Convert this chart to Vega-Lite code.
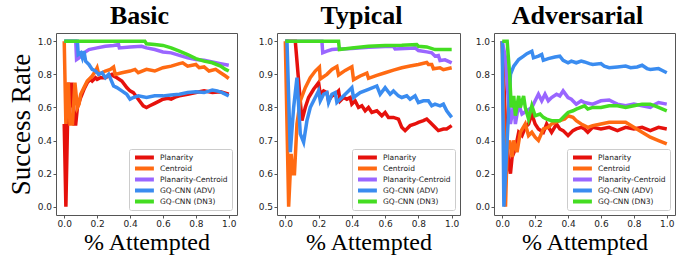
{
  "$schema": "https://vega.github.io/schema/vega-lite/v6.json",
  "padding": {"left": 6, "top": 2, "right": 0, "bottom": 0},
  "config": {
    "view": {"stroke": "#555", "strokeWidth": 1},
    "axis": {"labelFont": "DejaVu Sans", "labelFontSize": 9, "labelColor": "#222", "tickColor": "#555", "domain": false, "grid": false, "tickSize": 3, "labelPadding": 1.5, "titleFont": "Liberation Serif", "titleFontWeight": "normal", "titleColor": "black"},
    "title": {"font": "Liberation Serif", "fontSize": 26, "fontWeight": "bold", "offset": 4, "color": "black", "frame": "group", "dx": -7},
    "legend": {"orient": "bottom-right", "title": null, "symbolType": "M-1,0H5.3", "symbolStrokeWidth": 4, "symbolSize": 36, "symbolFillColor": "transparent", "labelOffset": 17, "labelFont": "DejaVu Sans", "labelFontSize": 7.5, "labelColor": "#222", "strokeColor": "#ccc", "fillColor": "white", "padding": 4, "rowPadding": 2, "clipHeight": 9, "offset": 5, "cornerRadius": 2}
  },
  "spacing": 40,
  "bounds": "flush",
  "resolve": {"legend": {"color": "independent"}},
  "data": {"values": [
    {"panel":"Basic","method":"Planarity","x":0,"y":0.5},{"panel":"Basic","method":"Planarity","x":0.01,"y":0.0},{"panel":"Basic","method":"Planarity","x":0.025,"y":0.75},{"panel":"Basic","method":"Planarity","x":0.035,"y":0.6},{"panel":"Basic","method":"Planarity","x":0.045,"y":0.75},{"panel":"Basic","method":"Planarity","x":0.06,"y":0.5},{"panel":"Basic","method":"Planarity","x":0.07,"y":0.5},{"panel":"Basic","method":"Planarity","x":0.08,"y":0.6},{"panel":"Basic","method":"Planarity","x":0.1,"y":0.66},{"panel":"Basic","method":"Planarity","x":0.12,"y":0.71},{"panel":"Basic","method":"Planarity","x":0.14,"y":0.75},{"panel":"Basic","method":"Planarity","x":0.16,"y":0.77},{"panel":"Basic","method":"Planarity","x":0.17,"y":0.76},{"panel":"Basic","method":"Planarity","x":0.19,"y":0.78},{"panel":"Basic","method":"Planarity","x":0.2,"y":0.77},{"panel":"Basic","method":"Planarity","x":0.22,"y":0.78},{"panel":"Basic","method":"Planarity","x":0.25,"y":0.78},{"panel":"Basic","method":"Planarity","x":0.27,"y":0.79},{"panel":"Basic","method":"Planarity","x":0.29,"y":0.8},{"panel":"Basic","method":"Planarity","x":0.3,"y":0.79},{"panel":"Basic","method":"Planarity","x":0.32,"y":0.78},{"panel":"Basic","method":"Planarity","x":0.35,"y":0.76},{"panel":"Basic","method":"Planarity","x":0.38,"y":0.72},{"panel":"Basic","method":"Planarity","x":0.4,"y":0.7},{"panel":"Basic","method":"Planarity","x":0.42,"y":0.69},{"panel":"Basic","method":"Planarity","x":0.45,"y":0.65},{"panel":"Basic","method":"Planarity","x":0.48,"y":0.61},{"panel":"Basic","method":"Planarity","x":0.5,"y":0.6},{"panel":"Basic","method":"Planarity","x":0.52,"y":0.61},{"panel":"Basic","method":"Planarity","x":0.55,"y":0.625},{"panel":"Basic","method":"Planarity","x":0.58,"y":0.64},{"panel":"Basic","method":"Planarity","x":0.6,"y":0.65},{"panel":"Basic","method":"Planarity","x":0.63,"y":0.655},{"panel":"Basic","method":"Planarity","x":0.65,"y":0.65},{"panel":"Basic","method":"Planarity","x":0.68,"y":0.665},{"panel":"Basic","method":"Planarity","x":0.7,"y":0.67},{"panel":"Basic","method":"Planarity","x":0.75,"y":0.68},{"panel":"Basic","method":"Planarity","x":0.8,"y":0.69},{"panel":"Basic","method":"Planarity","x":0.85,"y":0.7},{"panel":"Basic","method":"Planarity","x":0.9,"y":0.69},{"panel":"Basic","method":"Planarity","x":0.95,"y":0.695},{"panel":"Basic","method":"Planarity","x":1.0,"y":0.68},
    {"panel":"Basic","method":"Centroid","x":0,"y":1},{"panel":"Basic","method":"Centroid","x":0.01,"y":0.5},{"panel":"Basic","method":"Centroid","x":0.025,"y":0.75},{"panel":"Basic","method":"Centroid","x":0.035,"y":0.5},{"panel":"Basic","method":"Centroid","x":0.05,"y":0.5},{"panel":"Basic","method":"Centroid","x":0.065,"y":0.75},{"panel":"Basic","method":"Centroid","x":0.08,"y":0.6},{"panel":"Basic","method":"Centroid","x":0.09,"y":0.62},{"panel":"Basic","method":"Centroid","x":0.1,"y":0.68},{"panel":"Basic","method":"Centroid","x":0.12,"y":0.72},{"panel":"Basic","method":"Centroid","x":0.14,"y":0.76},{"panel":"Basic","method":"Centroid","x":0.17,"y":0.79},{"panel":"Basic","method":"Centroid","x":0.19,"y":0.82},{"panel":"Basic","method":"Centroid","x":0.2,"y":0.84},{"panel":"Basic","method":"Centroid","x":0.21,"y":0.8},{"panel":"Basic","method":"Centroid","x":0.25,"y":0.82},{"panel":"Basic","method":"Centroid","x":0.28,"y":0.83},{"panel":"Basic","method":"Centroid","x":0.3,"y":0.845},{"panel":"Basic","method":"Centroid","x":0.31,"y":0.8},{"panel":"Basic","method":"Centroid","x":0.35,"y":0.81},{"panel":"Basic","method":"Centroid","x":0.4,"y":0.82},{"panel":"Basic","method":"Centroid","x":0.43,"y":0.83},{"panel":"Basic","method":"Centroid","x":0.45,"y":0.81},{"panel":"Basic","method":"Centroid","x":0.5,"y":0.83},{"panel":"Basic","method":"Centroid","x":0.55,"y":0.82},{"panel":"Basic","method":"Centroid","x":0.6,"y":0.84},{"panel":"Basic","method":"Centroid","x":0.65,"y":0.85},{"panel":"Basic","method":"Centroid","x":0.7,"y":0.865},{"panel":"Basic","method":"Centroid","x":0.72,"y":0.87},{"panel":"Basic","method":"Centroid","x":0.75,"y":0.85},{"panel":"Basic","method":"Centroid","x":0.8,"y":0.86},{"panel":"Basic","method":"Centroid","x":0.82,"y":0.84},{"panel":"Basic","method":"Centroid","x":0.85,"y":0.845},{"panel":"Basic","method":"Centroid","x":0.88,"y":0.82},{"panel":"Basic","method":"Centroid","x":0.92,"y":0.83},{"panel":"Basic","method":"Centroid","x":0.95,"y":0.81},{"panel":"Basic","method":"Centroid","x":0.98,"y":0.79},{"panel":"Basic","method":"Centroid","x":1.0,"y":0.775},
    {"panel":"Basic","method":"Planarity-Centroid","x":0,"y":1},{"panel":"Basic","method":"Planarity-Centroid","x":0.07,"y":1},{"panel":"Basic","method":"Planarity-Centroid","x":0.075,"y":0.89},{"panel":"Basic","method":"Planarity-Centroid","x":0.09,"y":0.9},{"panel":"Basic","method":"Planarity-Centroid","x":0.12,"y":0.93},{"panel":"Basic","method":"Planarity-Centroid","x":0.15,"y":0.95},{"panel":"Basic","method":"Planarity-Centroid","x":0.2,"y":0.96},{"panel":"Basic","method":"Planarity-Centroid","x":0.25,"y":0.97},{"panel":"Basic","method":"Planarity-Centroid","x":0.3,"y":0.975},{"panel":"Basic","method":"Planarity-Centroid","x":0.33,"y":0.98},{"panel":"Basic","method":"Planarity-Centroid","x":0.335,"y":0.96},{"panel":"Basic","method":"Planarity-Centroid","x":0.4,"y":0.965},{"panel":"Basic","method":"Planarity-Centroid","x":0.47,"y":0.97},{"panel":"Basic","method":"Planarity-Centroid","x":0.5,"y":0.96},{"panel":"Basic","method":"Planarity-Centroid","x":0.55,"y":0.95},{"panel":"Basic","method":"Planarity-Centroid","x":0.6,"y":0.935},{"panel":"Basic","method":"Planarity-Centroid","x":0.65,"y":0.93},{"panel":"Basic","method":"Planarity-Centroid","x":0.7,"y":0.915},{"panel":"Basic","method":"Planarity-Centroid","x":0.75,"y":0.9},{"panel":"Basic","method":"Planarity-Centroid","x":0.8,"y":0.89},{"panel":"Basic","method":"Planarity-Centroid","x":0.85,"y":0.885},{"panel":"Basic","method":"Planarity-Centroid","x":0.9,"y":0.875},{"panel":"Basic","method":"Planarity-Centroid","x":0.95,"y":0.865},{"panel":"Basic","method":"Planarity-Centroid","x":1.0,"y":0.855},
    {"panel":"Basic","method":"GQ-CNN (ADV)","x":0,"y":1},{"panel":"Basic","method":"GQ-CNN (ADV)","x":0.08,"y":1},{"panel":"Basic","method":"GQ-CNN (ADV)","x":0.085,"y":0.92},{"panel":"Basic","method":"GQ-CNN (ADV)","x":0.1,"y":0.93},{"panel":"Basic","method":"GQ-CNN (ADV)","x":0.11,"y":0.9},{"panel":"Basic","method":"GQ-CNN (ADV)","x":0.12,"y":0.94},{"panel":"Basic","method":"GQ-CNN (ADV)","x":0.13,"y":0.88},{"panel":"Basic","method":"GQ-CNN (ADV)","x":0.15,"y":0.86},{"panel":"Basic","method":"GQ-CNN (ADV)","x":0.17,"y":0.83},{"panel":"Basic","method":"GQ-CNN (ADV)","x":0.19,"y":0.82},{"panel":"Basic","method":"GQ-CNN (ADV)","x":0.21,"y":0.8},{"panel":"Basic","method":"GQ-CNN (ADV)","x":0.23,"y":0.81},{"panel":"Basic","method":"GQ-CNN (ADV)","x":0.25,"y":0.78},{"panel":"Basic","method":"GQ-CNN (ADV)","x":0.27,"y":0.8},{"panel":"Basic","method":"GQ-CNN (ADV)","x":0.3,"y":0.73},{"panel":"Basic","method":"GQ-CNN (ADV)","x":0.32,"y":0.72},{"panel":"Basic","method":"GQ-CNN (ADV)","x":0.35,"y":0.7},{"panel":"Basic","method":"GQ-CNN (ADV)","x":0.38,"y":0.68},{"panel":"Basic","method":"GQ-CNN (ADV)","x":0.4,"y":0.65},{"panel":"Basic","method":"GQ-CNN (ADV)","x":0.42,"y":0.66},{"panel":"Basic","method":"GQ-CNN (ADV)","x":0.45,"y":0.67},{"panel":"Basic","method":"GQ-CNN (ADV)","x":0.5,"y":0.66},{"panel":"Basic","method":"GQ-CNN (ADV)","x":0.55,"y":0.67},{"panel":"Basic","method":"GQ-CNN (ADV)","x":0.6,"y":0.67},{"panel":"Basic","method":"GQ-CNN (ADV)","x":0.65,"y":0.675},{"panel":"Basic","method":"GQ-CNN (ADV)","x":0.7,"y":0.68},{"panel":"Basic","method":"GQ-CNN (ADV)","x":0.75,"y":0.69},{"panel":"Basic","method":"GQ-CNN (ADV)","x":0.8,"y":0.695},{"panel":"Basic","method":"GQ-CNN (ADV)","x":0.85,"y":0.69},{"panel":"Basic","method":"GQ-CNN (ADV)","x":0.9,"y":0.705},{"panel":"Basic","method":"GQ-CNN (ADV)","x":0.93,"y":0.7},{"panel":"Basic","method":"GQ-CNN (ADV)","x":0.96,"y":0.69},{"panel":"Basic","method":"GQ-CNN (ADV)","x":1.0,"y":0.67},
    {"panel":"Basic","method":"GQ-CNN (DN3)","x":0,"y":1},{"panel":"Basic","method":"GQ-CNN (DN3)","x":0.49,"y":1},{"panel":"Basic","method":"GQ-CNN (DN3)","x":0.5,"y":0.985},{"panel":"Basic","method":"GQ-CNN (DN3)","x":0.55,"y":0.98},{"panel":"Basic","method":"GQ-CNN (DN3)","x":0.6,"y":0.975},{"panel":"Basic","method":"GQ-CNN (DN3)","x":0.65,"y":0.96},{"panel":"Basic","method":"GQ-CNN (DN3)","x":0.7,"y":0.94},{"panel":"Basic","method":"GQ-CNN (DN3)","x":0.75,"y":0.92},{"panel":"Basic","method":"GQ-CNN (DN3)","x":0.8,"y":0.895},{"panel":"Basic","method":"GQ-CNN (DN3)","x":0.85,"y":0.88},{"panel":"Basic","method":"GQ-CNN (DN3)","x":0.9,"y":0.87},{"panel":"Basic","method":"GQ-CNN (DN3)","x":0.95,"y":0.85},{"panel":"Basic","method":"GQ-CNN (DN3)","x":0.98,"y":0.83},{"panel":"Basic","method":"GQ-CNN (DN3)","x":1.0,"y":0.82},

    {"panel":"Typical","method":"Planarity","x":0,"y":1},{"panel":"Typical","method":"Planarity","x":0.06,"y":1},{"panel":"Typical","method":"Planarity","x":0.1,"y":0.76},{"panel":"Typical","method":"Planarity","x":0.12,"y":0.8},{"panel":"Typical","method":"Planarity","x":0.14,"y":0.83},{"panel":"Typical","method":"Planarity","x":0.17,"y":0.855},{"panel":"Typical","method":"Planarity","x":0.2,"y":0.875},{"panel":"Typical","method":"Planarity","x":0.21,"y":0.84},{"panel":"Typical","method":"Planarity","x":0.23,"y":0.85},{"panel":"Typical","method":"Planarity","x":0.25,"y":0.845},{"panel":"Typical","method":"Planarity","x":0.26,"y":0.82},{"panel":"Typical","method":"Planarity","x":0.28,"y":0.835},{"panel":"Typical","method":"Planarity","x":0.3,"y":0.84},{"panel":"Typical","method":"Planarity","x":0.32,"y":0.85},{"panel":"Typical","method":"Planarity","x":0.33,"y":0.82},{"panel":"Typical","method":"Planarity","x":0.35,"y":0.83},{"panel":"Typical","method":"Planarity","x":0.37,"y":0.825},{"panel":"Typical","method":"Planarity","x":0.39,"y":0.83},{"panel":"Typical","method":"Planarity","x":0.4,"y":0.81},{"panel":"Typical","method":"Planarity","x":0.42,"y":0.82},{"panel":"Typical","method":"Planarity","x":0.44,"y":0.8},{"panel":"Typical","method":"Planarity","x":0.46,"y":0.805},{"panel":"Typical","method":"Planarity","x":0.48,"y":0.79},{"panel":"Typical","method":"Planarity","x":0.5,"y":0.8},{"panel":"Typical","method":"Planarity","x":0.52,"y":0.785},{"panel":"Typical","method":"Planarity","x":0.55,"y":0.79},{"panel":"Typical","method":"Planarity","x":0.58,"y":0.775},{"panel":"Typical","method":"Planarity","x":0.6,"y":0.785},{"panel":"Typical","method":"Planarity","x":0.62,"y":0.77},{"panel":"Typical","method":"Planarity","x":0.65,"y":0.77},{"panel":"Typical","method":"Planarity","x":0.68,"y":0.765},{"panel":"Typical","method":"Planarity","x":0.7,"y":0.74},{"panel":"Typical","method":"Planarity","x":0.72,"y":0.73},{"panel":"Typical","method":"Planarity","x":0.75,"y":0.745},{"panel":"Typical","method":"Planarity","x":0.78,"y":0.75},{"panel":"Typical","method":"Planarity","x":0.8,"y":0.755},{"panel":"Typical","method":"Planarity","x":0.83,"y":0.76},{"panel":"Typical","method":"Planarity","x":0.85,"y":0.765},{"panel":"Typical","method":"Planarity","x":0.87,"y":0.755},{"panel":"Typical","method":"Planarity","x":0.9,"y":0.74},{"panel":"Typical","method":"Planarity","x":0.92,"y":0.73},{"panel":"Typical","method":"Planarity","x":0.95,"y":0.735},{"panel":"Typical","method":"Planarity","x":0.97,"y":0.735},{"panel":"Typical","method":"Planarity","x":1.0,"y":0.745},
    {"panel":"Typical","method":"Centroid","x":0,"y":1},{"panel":"Typical","method":"Centroid","x":0.02,"y":0.5},{"panel":"Typical","method":"Centroid","x":0.035,"y":0.66},{"panel":"Typical","method":"Centroid","x":0.045,"y":0.6},{"panel":"Typical","method":"Centroid","x":0.055,"y":0.6},{"panel":"Typical","method":"Centroid","x":0.07,"y":0.75},{"panel":"Typical","method":"Centroid","x":0.09,"y":0.82},{"panel":"Typical","method":"Centroid","x":0.12,"y":0.86},{"panel":"Typical","method":"Centroid","x":0.15,"y":0.89},{"panel":"Typical","method":"Centroid","x":0.18,"y":0.91},{"panel":"Typical","method":"Centroid","x":0.205,"y":0.922},{"panel":"Typical","method":"Centroid","x":0.21,"y":0.886},{"panel":"Typical","method":"Centroid","x":0.25,"y":0.9},{"panel":"Typical","method":"Centroid","x":0.28,"y":0.915},{"panel":"Typical","method":"Centroid","x":0.31,"y":0.924},{"panel":"Typical","method":"Centroid","x":0.32,"y":0.898},{"panel":"Typical","method":"Centroid","x":0.36,"y":0.912},{"panel":"Typical","method":"Centroid","x":0.4,"y":0.923},{"panel":"Typical","method":"Centroid","x":0.41,"y":0.884},{"panel":"Typical","method":"Centroid","x":0.45,"y":0.895},{"panel":"Typical","method":"Centroid","x":0.49,"y":0.904},{"panel":"Typical","method":"Centroid","x":0.5,"y":0.888},{"panel":"Typical","method":"Centroid","x":0.55,"y":0.897},{"panel":"Typical","method":"Centroid","x":0.6,"y":0.905},{"panel":"Typical","method":"Centroid","x":0.65,"y":0.913},{"panel":"Typical","method":"Centroid","x":0.7,"y":0.92},{"panel":"Typical","method":"Centroid","x":0.75,"y":0.925},{"panel":"Typical","method":"Centroid","x":0.8,"y":0.93},{"panel":"Typical","method":"Centroid","x":0.85,"y":0.936},{"panel":"Typical","method":"Centroid","x":0.86,"y":0.93},{"panel":"Typical","method":"Centroid","x":0.88,"y":0.93},{"panel":"Typical","method":"Centroid","x":0.89,"y":0.917},{"panel":"Typical","method":"Centroid","x":0.93,"y":0.92},{"panel":"Typical","method":"Centroid","x":0.95,"y":0.914},{"panel":"Typical","method":"Centroid","x":1.0,"y":0.92},
    {"panel":"Typical","method":"Planarity-Centroid","x":0,"y":1},{"panel":"Typical","method":"Planarity-Centroid","x":0.22,"y":1},{"panel":"Typical","method":"Planarity-Centroid","x":0.225,"y":0.965},{"panel":"Typical","method":"Planarity-Centroid","x":0.25,"y":0.97},{"panel":"Typical","method":"Planarity-Centroid","x":0.28,"y":0.975},{"panel":"Typical","method":"Planarity-Centroid","x":0.3,"y":0.976},{"panel":"Typical","method":"Planarity-Centroid","x":0.4,"y":0.978},{"panel":"Typical","method":"Planarity-Centroid","x":0.5,"y":0.982},{"panel":"Typical","method":"Planarity-Centroid","x":0.6,"y":0.984},{"panel":"Typical","method":"Planarity-Centroid","x":0.65,"y":0.985},{"panel":"Typical","method":"Planarity-Centroid","x":0.66,"y":0.977},{"panel":"Typical","method":"Planarity-Centroid","x":0.75,"y":0.979},{"panel":"Typical","method":"Planarity-Centroid","x":0.78,"y":0.98},{"panel":"Typical","method":"Planarity-Centroid","x":0.8,"y":0.972},{"panel":"Typical","method":"Planarity-Centroid","x":0.85,"y":0.968},{"panel":"Typical","method":"Planarity-Centroid","x":0.88,"y":0.965},{"panel":"Typical","method":"Planarity-Centroid","x":0.9,"y":0.955},{"panel":"Typical","method":"Planarity-Centroid","x":0.92,"y":0.957},{"panel":"Typical","method":"Planarity-Centroid","x":0.93,"y":0.942},{"panel":"Typical","method":"Planarity-Centroid","x":0.96,"y":0.944},{"panel":"Typical","method":"Planarity-Centroid","x":1.0,"y":0.935},
    {"panel":"Typical","method":"GQ-CNN (ADV)","x":0,"y":1},{"panel":"Typical","method":"GQ-CNN (ADV)","x":0.01,"y":1},{"panel":"Typical","method":"GQ-CNN (ADV)","x":0.03,"y":0.665},{"panel":"Typical","method":"GQ-CNN (ADV)","x":0.05,"y":0.8},{"panel":"Typical","method":"GQ-CNN (ADV)","x":0.07,"y":0.89},{"panel":"Typical","method":"GQ-CNN (ADV)","x":0.09,"y":0.72},{"panel":"Typical","method":"GQ-CNN (ADV)","x":0.11,"y":0.695},{"panel":"Typical","method":"GQ-CNN (ADV)","x":0.13,"y":0.76},{"panel":"Typical","method":"GQ-CNN (ADV)","x":0.15,"y":0.8},{"panel":"Typical","method":"GQ-CNN (ADV)","x":0.18,"y":0.83},{"panel":"Typical","method":"GQ-CNN (ADV)","x":0.2,"y":0.85},{"panel":"Typical","method":"GQ-CNN (ADV)","x":0.21,"y":0.82},{"panel":"Typical","method":"GQ-CNN (ADV)","x":0.23,"y":0.84},{"panel":"Typical","method":"GQ-CNN (ADV)","x":0.25,"y":0.845},{"panel":"Typical","method":"GQ-CNN (ADV)","x":0.26,"y":0.815},{"panel":"Typical","method":"GQ-CNN (ADV)","x":0.28,"y":0.84},{"panel":"Typical","method":"GQ-CNN (ADV)","x":0.3,"y":0.845},{"panel":"Typical","method":"GQ-CNN (ADV)","x":0.31,"y":0.815},{"panel":"Typical","method":"GQ-CNN (ADV)","x":0.34,"y":0.83},{"panel":"Typical","method":"GQ-CNN (ADV)","x":0.38,"y":0.85},{"panel":"Typical","method":"GQ-CNN (ADV)","x":0.4,"y":0.86},{"panel":"Typical","method":"GQ-CNN (ADV)","x":0.41,"y":0.83},{"panel":"Typical","method":"GQ-CNN (ADV)","x":0.45,"y":0.845},{"panel":"Typical","method":"GQ-CNN (ADV)","x":0.5,"y":0.855},{"panel":"Typical","method":"GQ-CNN (ADV)","x":0.55,"y":0.865},{"panel":"Typical","method":"GQ-CNN (ADV)","x":0.57,"y":0.84},{"panel":"Typical","method":"GQ-CNN (ADV)","x":0.6,"y":0.86},{"panel":"Typical","method":"GQ-CNN (ADV)","x":0.63,"y":0.84},{"panel":"Typical","method":"GQ-CNN (ADV)","x":0.65,"y":0.85},{"panel":"Typical","method":"GQ-CNN (ADV)","x":0.68,"y":0.835},{"panel":"Typical","method":"GQ-CNN (ADV)","x":0.7,"y":0.83},{"panel":"Typical","method":"GQ-CNN (ADV)","x":0.73,"y":0.835},{"panel":"Typical","method":"GQ-CNN (ADV)","x":0.75,"y":0.825},{"panel":"Typical","method":"GQ-CNN (ADV)","x":0.78,"y":0.835},{"panel":"Typical","method":"GQ-CNN (ADV)","x":0.8,"y":0.815},{"panel":"Typical","method":"GQ-CNN (ADV)","x":0.83,"y":0.82},{"panel":"Typical","method":"GQ-CNN (ADV)","x":0.86,"y":0.82},{"panel":"Typical","method":"GQ-CNN (ADV)","x":0.88,"y":0.805},{"panel":"Typical","method":"GQ-CNN (ADV)","x":0.9,"y":0.81},{"panel":"Typical","method":"GQ-CNN (ADV)","x":0.93,"y":0.805},{"panel":"Typical","method":"GQ-CNN (ADV)","x":0.95,"y":0.81},{"panel":"Typical","method":"GQ-CNN (ADV)","x":0.97,"y":0.79},{"panel":"Typical","method":"GQ-CNN (ADV)","x":1.0,"y":0.77},
    {"panel":"Typical","method":"GQ-CNN (DN3)","x":0,"y":1},{"panel":"Typical","method":"GQ-CNN (DN3)","x":0.32,"y":1},{"panel":"Typical","method":"GQ-CNN (DN3)","x":0.325,"y":0.975},{"panel":"Typical","method":"GQ-CNN (DN3)","x":0.4,"y":0.98},{"panel":"Typical","method":"GQ-CNN (DN3)","x":0.5,"y":0.985},{"panel":"Typical","method":"GQ-CNN (DN3)","x":0.6,"y":0.987},{"panel":"Typical","method":"GQ-CNN (DN3)","x":0.7,"y":0.988},{"panel":"Typical","method":"GQ-CNN (DN3)","x":0.79,"y":0.99},{"panel":"Typical","method":"GQ-CNN (DN3)","x":0.8,"y":0.985},{"panel":"Typical","method":"GQ-CNN (DN3)","x":0.85,"y":0.983},{"panel":"Typical","method":"GQ-CNN (DN3)","x":0.9,"y":0.975},{"panel":"Typical","method":"GQ-CNN (DN3)","x":0.95,"y":0.975},{"panel":"Typical","method":"GQ-CNN (DN3)","x":1.0,"y":0.975},

    {"panel":"Adversarial","method":"Planarity","x":0,"y":1},{"panel":"Adversarial","method":"Planarity","x":0.02,"y":0.5},{"panel":"Adversarial","method":"Planarity","x":0.04,"y":0.25},{"panel":"Adversarial","method":"Planarity","x":0.05,"y":0.2},{"panel":"Adversarial","method":"Planarity","x":0.06,"y":0.3},{"panel":"Adversarial","method":"Planarity","x":0.08,"y":0.35},{"panel":"Adversarial","method":"Planarity","x":0.1,"y":0.45},{"panel":"Adversarial","method":"Planarity","x":0.12,"y":0.43},{"panel":"Adversarial","method":"Planarity","x":0.14,"y":0.48},{"panel":"Adversarial","method":"Planarity","x":0.16,"y":0.5},{"panel":"Adversarial","method":"Planarity","x":0.18,"y":0.56},{"panel":"Adversarial","method":"Planarity","x":0.2,"y":0.5},{"panel":"Adversarial","method":"Planarity","x":0.22,"y":0.47},{"panel":"Adversarial","method":"Planarity","x":0.25,"y":0.45},{"panel":"Adversarial","method":"Planarity","x":0.27,"y":0.5},{"panel":"Adversarial","method":"Planarity","x":0.3,"y":0.45},{"panel":"Adversarial","method":"Planarity","x":0.33,"y":0.5},{"panel":"Adversarial","method":"Planarity","x":0.35,"y":0.47},{"panel":"Adversarial","method":"Planarity","x":0.37,"y":0.46},{"panel":"Adversarial","method":"Planarity","x":0.4,"y":0.43},{"panel":"Adversarial","method":"Planarity","x":0.43,"y":0.46},{"panel":"Adversarial","method":"Planarity","x":0.45,"y":0.47},{"panel":"Adversarial","method":"Planarity","x":0.48,"y":0.48},{"panel":"Adversarial","method":"Planarity","x":0.5,"y":0.47},{"panel":"Adversarial","method":"Planarity","x":0.52,"y":0.45},{"panel":"Adversarial","method":"Planarity","x":0.55,"y":0.48},{"panel":"Adversarial","method":"Planarity","x":0.6,"y":0.47},{"panel":"Adversarial","method":"Planarity","x":0.65,"y":0.48},{"panel":"Adversarial","method":"Planarity","x":0.7,"y":0.46},{"panel":"Adversarial","method":"Planarity","x":0.75,"y":0.48},{"panel":"Adversarial","method":"Planarity","x":0.8,"y":0.47},{"panel":"Adversarial","method":"Planarity","x":0.85,"y":0.48},{"panel":"Adversarial","method":"Planarity","x":0.9,"y":0.46},{"panel":"Adversarial","method":"Planarity","x":0.95,"y":0.48},{"panel":"Adversarial","method":"Planarity","x":1.0,"y":0.47},
    {"panel":"Adversarial","method":"Centroid","x":0,"y":1},{"panel":"Adversarial","method":"Centroid","x":0.02,"y":0.0},{"panel":"Adversarial","method":"Centroid","x":0.03,"y":0.35},{"panel":"Adversarial","method":"Centroid","x":0.045,"y":0.4},{"panel":"Adversarial","method":"Centroid","x":0.06,"y":0.3},{"panel":"Adversarial","method":"Centroid","x":0.07,"y":0.4},{"panel":"Adversarial","method":"Centroid","x":0.09,"y":0.33},{"panel":"Adversarial","method":"Centroid","x":0.11,"y":0.45},{"panel":"Adversarial","method":"Centroid","x":0.14,"y":0.5},{"panel":"Adversarial","method":"Centroid","x":0.16,"y":0.43},{"panel":"Adversarial","method":"Centroid","x":0.18,"y":0.45},{"panel":"Adversarial","method":"Centroid","x":0.2,"y":0.42},{"panel":"Adversarial","method":"Centroid","x":0.22,"y":0.4},{"panel":"Adversarial","method":"Centroid","x":0.25,"y":0.47},{"panel":"Adversarial","method":"Centroid","x":0.28,"y":0.48},{"panel":"Adversarial","method":"Centroid","x":0.3,"y":0.5},{"panel":"Adversarial","method":"Centroid","x":0.35,"y":0.52},{"panel":"Adversarial","method":"Centroid","x":0.38,"y":0.53},{"panel":"Adversarial","method":"Centroid","x":0.4,"y":0.55},{"panel":"Adversarial","method":"Centroid","x":0.43,"y":0.54},{"panel":"Adversarial","method":"Centroid","x":0.45,"y":0.52},{"panel":"Adversarial","method":"Centroid","x":0.48,"y":0.5},{"panel":"Adversarial","method":"Centroid","x":0.52,"y":0.48},{"panel":"Adversarial","method":"Centroid","x":0.55,"y":0.49},{"panel":"Adversarial","method":"Centroid","x":0.6,"y":0.5},{"panel":"Adversarial","method":"Centroid","x":0.65,"y":0.51},{"panel":"Adversarial","method":"Centroid","x":0.7,"y":0.51},{"panel":"Adversarial","method":"Centroid","x":0.75,"y":0.51},{"panel":"Adversarial","method":"Centroid","x":0.8,"y":0.48},{"panel":"Adversarial","method":"Centroid","x":0.85,"y":0.45},{"panel":"Adversarial","method":"Centroid","x":0.9,"y":0.42},{"panel":"Adversarial","method":"Centroid","x":0.95,"y":0.4},{"panel":"Adversarial","method":"Centroid","x":1.0,"y":0.38},
    {"panel":"Adversarial","method":"Planarity-Centroid","x":0,"y":1},{"panel":"Adversarial","method":"Planarity-Centroid","x":0.02,"y":0.9},{"panel":"Adversarial","method":"Planarity-Centroid","x":0.04,"y":0.6},{"panel":"Adversarial","method":"Planarity-Centroid","x":0.05,"y":0.5},{"panel":"Adversarial","method":"Planarity-Centroid","x":0.07,"y":0.62},{"panel":"Adversarial","method":"Planarity-Centroid","x":0.08,"y":0.5},{"panel":"Adversarial","method":"Planarity-Centroid","x":0.1,"y":0.62},{"panel":"Adversarial","method":"Planarity-Centroid","x":0.12,"y":0.56},{"panel":"Adversarial","method":"Planarity-Centroid","x":0.15,"y":0.58},{"panel":"Adversarial","method":"Planarity-Centroid","x":0.18,"y":0.6},{"panel":"Adversarial","method":"Planarity-Centroid","x":0.2,"y":0.64},{"panel":"Adversarial","method":"Planarity-Centroid","x":0.22,"y":0.68},{"panel":"Adversarial","method":"Planarity-Centroid","x":0.24,"y":0.64},{"panel":"Adversarial","method":"Planarity-Centroid","x":0.26,"y":0.68},{"panel":"Adversarial","method":"Planarity-Centroid","x":0.28,"y":0.64},{"panel":"Adversarial","method":"Planarity-Centroid","x":0.3,"y":0.66},{"panel":"Adversarial","method":"Planarity-Centroid","x":0.33,"y":0.68},{"panel":"Adversarial","method":"Planarity-Centroid","x":0.35,"y":0.67},{"panel":"Adversarial","method":"Planarity-Centroid","x":0.37,"y":0.7},{"panel":"Adversarial","method":"Planarity-Centroid","x":0.4,"y":0.66},{"panel":"Adversarial","method":"Planarity-Centroid","x":0.42,"y":0.65},{"panel":"Adversarial","method":"Planarity-Centroid","x":0.45,"y":0.62},{"panel":"Adversarial","method":"Planarity-Centroid","x":0.48,"y":0.64},{"panel":"Adversarial","method":"Planarity-Centroid","x":0.5,"y":0.63},{"panel":"Adversarial","method":"Planarity-Centroid","x":0.55,"y":0.62},{"panel":"Adversarial","method":"Planarity-Centroid","x":0.6,"y":0.64},{"panel":"Adversarial","method":"Planarity-Centroid","x":0.65,"y":0.645},{"panel":"Adversarial","method":"Planarity-Centroid","x":0.68,"y":0.63},{"panel":"Adversarial","method":"Planarity-Centroid","x":0.7,"y":0.62},{"panel":"Adversarial","method":"Planarity-Centroid","x":0.75,"y":0.61},{"panel":"Adversarial","method":"Planarity-Centroid","x":0.8,"y":0.62},{"panel":"Adversarial","method":"Planarity-Centroid","x":0.85,"y":0.61},{"panel":"Adversarial","method":"Planarity-Centroid","x":0.9,"y":0.6},{"panel":"Adversarial","method":"Planarity-Centroid","x":0.93,"y":0.62},{"panel":"Adversarial","method":"Planarity-Centroid","x":0.95,"y":0.63},{"panel":"Adversarial","method":"Planarity-Centroid","x":1.0,"y":0.62},
    {"panel":"Adversarial","method":"GQ-CNN (ADV)","x":0,"y":1},{"panel":"Adversarial","method":"GQ-CNN (ADV)","x":0.01,"y":0.0},{"panel":"Adversarial","method":"GQ-CNN (ADV)","x":0.05,"y":0.8},{"panel":"Adversarial","method":"GQ-CNN (ADV)","x":0.07,"y":0.85},{"panel":"Adversarial","method":"GQ-CNN (ADV)","x":0.1,"y":0.89},{"panel":"Adversarial","method":"GQ-CNN (ADV)","x":0.13,"y":0.91},{"panel":"Adversarial","method":"GQ-CNN (ADV)","x":0.15,"y":0.925},{"panel":"Adversarial","method":"GQ-CNN (ADV)","x":0.18,"y":0.94},{"panel":"Adversarial","method":"GQ-CNN (ADV)","x":0.19,"y":0.9},{"panel":"Adversarial","method":"GQ-CNN (ADV)","x":0.22,"y":0.91},{"panel":"Adversarial","method":"GQ-CNN (ADV)","x":0.24,"y":0.92},{"panel":"Adversarial","method":"GQ-CNN (ADV)","x":0.25,"y":0.885},{"panel":"Adversarial","method":"GQ-CNN (ADV)","x":0.28,"y":0.895},{"panel":"Adversarial","method":"GQ-CNN (ADV)","x":0.32,"y":0.905},{"panel":"Adversarial","method":"GQ-CNN (ADV)","x":0.35,"y":0.91},{"panel":"Adversarial","method":"GQ-CNN (ADV)","x":0.37,"y":0.885},{"panel":"Adversarial","method":"GQ-CNN (ADV)","x":0.4,"y":0.87},{"panel":"Adversarial","method":"GQ-CNN (ADV)","x":0.42,"y":0.88},{"panel":"Adversarial","method":"GQ-CNN (ADV)","x":0.45,"y":0.87},{"panel":"Adversarial","method":"GQ-CNN (ADV)","x":0.48,"y":0.88},{"panel":"Adversarial","method":"GQ-CNN (ADV)","x":0.5,"y":0.875},{"panel":"Adversarial","method":"GQ-CNN (ADV)","x":0.53,"y":0.865},{"panel":"Adversarial","method":"GQ-CNN (ADV)","x":0.55,"y":0.86},{"panel":"Adversarial","method":"GQ-CNN (ADV)","x":0.6,"y":0.865},{"panel":"Adversarial","method":"GQ-CNN (ADV)","x":0.62,"y":0.85},{"panel":"Adversarial","method":"GQ-CNN (ADV)","x":0.65,"y":0.84},{"panel":"Adversarial","method":"GQ-CNN (ADV)","x":0.7,"y":0.845},{"panel":"Adversarial","method":"GQ-CNN (ADV)","x":0.75,"y":0.85},{"panel":"Adversarial","method":"GQ-CNN (ADV)","x":0.78,"y":0.84},{"panel":"Adversarial","method":"GQ-CNN (ADV)","x":0.82,"y":0.845},{"panel":"Adversarial","method":"GQ-CNN (ADV)","x":0.85,"y":0.855},{"panel":"Adversarial","method":"GQ-CNN (ADV)","x":0.88,"y":0.835},{"panel":"Adversarial","method":"GQ-CNN (ADV)","x":0.9,"y":0.83},{"panel":"Adversarial","method":"GQ-CNN (ADV)","x":0.95,"y":0.835},{"panel":"Adversarial","method":"GQ-CNN (ADV)","x":0.97,"y":0.825},{"panel":"Adversarial","method":"GQ-CNN (ADV)","x":1.0,"y":0.81},
    {"panel":"Adversarial","method":"GQ-CNN (DN3)","x":0,"y":1},{"panel":"Adversarial","method":"GQ-CNN (DN3)","x":0.03,"y":1},{"panel":"Adversarial","method":"GQ-CNN (DN3)","x":0.045,"y":0.8},{"panel":"Adversarial","method":"GQ-CNN (DN3)","x":0.055,"y":0.6},{"panel":"Adversarial","method":"GQ-CNN (DN3)","x":0.07,"y":0.67},{"panel":"Adversarial","method":"GQ-CNN (DN3)","x":0.08,"y":0.55},{"panel":"Adversarial","method":"GQ-CNN (DN3)","x":0.1,"y":0.67},{"panel":"Adversarial","method":"GQ-CNN (DN3)","x":0.11,"y":0.6},{"panel":"Adversarial","method":"GQ-CNN (DN3)","x":0.13,"y":0.67},{"panel":"Adversarial","method":"GQ-CNN (DN3)","x":0.14,"y":0.6},{"panel":"Adversarial","method":"GQ-CNN (DN3)","x":0.16,"y":0.53},{"panel":"Adversarial","method":"GQ-CNN (DN3)","x":0.18,"y":0.61},{"panel":"Adversarial","method":"GQ-CNN (DN3)","x":0.2,"y":0.55},{"panel":"Adversarial","method":"GQ-CNN (DN3)","x":0.23,"y":0.56},{"panel":"Adversarial","method":"GQ-CNN (DN3)","x":0.25,"y":0.54},{"panel":"Adversarial","method":"GQ-CNN (DN3)","x":0.27,"y":0.53},{"panel":"Adversarial","method":"GQ-CNN (DN3)","x":0.3,"y":0.52},{"panel":"Adversarial","method":"GQ-CNN (DN3)","x":0.35,"y":0.52},{"panel":"Adversarial","method":"GQ-CNN (DN3)","x":0.38,"y":0.55},{"panel":"Adversarial","method":"GQ-CNN (DN3)","x":0.4,"y":0.57},{"panel":"Adversarial","method":"GQ-CNN (DN3)","x":0.43,"y":0.58},{"panel":"Adversarial","method":"GQ-CNN (DN3)","x":0.45,"y":0.59},{"panel":"Adversarial","method":"GQ-CNN (DN3)","x":0.5,"y":0.61},{"panel":"Adversarial","method":"GQ-CNN (DN3)","x":0.52,"y":0.59},{"panel":"Adversarial","method":"GQ-CNN (DN3)","x":0.55,"y":0.6},{"panel":"Adversarial","method":"GQ-CNN (DN3)","x":0.6,"y":0.6},{"panel":"Adversarial","method":"GQ-CNN (DN3)","x":0.65,"y":0.61},{"panel":"Adversarial","method":"GQ-CNN (DN3)","x":0.7,"y":0.61},{"panel":"Adversarial","method":"GQ-CNN (DN3)","x":0.75,"y":0.6},{"panel":"Adversarial","method":"GQ-CNN (DN3)","x":0.8,"y":0.61},{"panel":"Adversarial","method":"GQ-CNN (DN3)","x":0.85,"y":0.62},{"panel":"Adversarial","method":"GQ-CNN (DN3)","x":0.9,"y":0.62},{"panel":"Adversarial","method":"GQ-CNN (DN3)","x":0.95,"y":0.6},{"panel":"Adversarial","method":"GQ-CNN (DN3)","x":1.0,"y":0.58}
  ]},
  "hconcat": [
    {
      "title": "Basic",
      "width": 181, "height": 182,
      "transform": [{"filter": "datum.panel === 'Basic'"}],
      "mark": {"type": "line", "strokeWidth": 3.5, "clip": true},
      "encoding": {
        "x": {"field": "x", "type": "quantitative", "scale": {"domain": [-0.05, 1.05], "nice": false, "zero": false}, "axis": {"values": [0, 0.2, 0.4, 0.6, 0.8, 1], "format": ".1f", "title": "% Attempted", "titleFontSize": 24, "titlePadding": 2, "labelPadding": 1}},
        "y": {"field": "y", "type": "quantitative", "scale": {"domain": [-0.05, 1.05], "nice": false, "zero": false}, "axis": {"values": [0, 0.2, 0.4, 0.6, 0.8, 1], "format": ".1f", "title": "Success Rate", "titleFontSize": 27, "titlePadding": 2}},
        "color": {"field": "method", "type": "nominal", "scale": {"domain": ["Planarity", "Centroid", "Planarity-Centroid", "GQ-CNN (ADV)", "GQ-CNN (DN3)"], "range": ["#e6110c", "#ff6a12", "#9a66ff", "#3a8cf0", "#44dd22"]}}
      }
    },
    {
      "spacing": 34,
      "bounds": "flush",
      "resolve": {"legend": {"color": "independent"}},
      "hconcat": [
        {
          "title": "Typical",
          "width": 183, "height": 182,
          "transform": [{"filter": "datum.panel === 'Typical'"}],
          "mark": {"type": "line", "strokeWidth": 3.5, "clip": true},
          "encoding": {
            "x": {"field": "x", "type": "quantitative", "scale": {"domain": [-0.05, 1.05], "nice": false, "zero": false}, "axis": {"values": [0, 0.2, 0.4, 0.6, 0.8, 1], "format": ".1f", "title": "% Attempted", "titleFontSize": 24, "titlePadding": 2, "labelPadding": 1}},
            "y": {"field": "y", "type": "quantitative", "scale": {"domain": [0.475, 1.025], "nice": false, "zero": false}, "axis": {"values": [0.5, 0.6, 0.7, 0.8, 0.9, 1], "format": ".1f", "title": null}},
            "color": {"field": "method", "type": "nominal", "scale": {"domain": ["Planarity", "Centroid", "Planarity-Centroid", "GQ-CNN (ADV)", "GQ-CNN (DN3)"], "range": ["#e6110c", "#ff6a12", "#9a66ff", "#3a8cf0", "#44dd22"]}}
          }
        },
        {
          "title": "Adversarial",
          "width": 181, "height": 182,
          "transform": [{"filter": "datum.panel === 'Adversarial'"}],
          "mark": {"type": "line", "strokeWidth": 3.5, "clip": true},
          "encoding": {
            "x": {"field": "x", "type": "quantitative", "scale": {"domain": [-0.05, 1.05], "nice": false, "zero": false}, "axis": {"values": [0, 0.2, 0.4, 0.6, 0.8, 1], "format": ".1f", "title": "% Attempted", "titleFontSize": 24, "titlePadding": 2, "labelPadding": 1}},
            "y": {"field": "y", "type": "quantitative", "scale": {"domain": [-0.05, 1.05], "nice": false, "zero": false}, "axis": {"values": [0, 0.2, 0.4, 0.6, 0.8, 1], "format": ".1f", "title": null}},
            "color": {"field": "method", "type": "nominal", "scale": {"domain": ["Planarity", "Centroid", "Planarity-Centroid", "GQ-CNN (ADV)", "GQ-CNN (DN3)"], "range": ["#e6110c", "#ff6a12", "#9a66ff", "#3a8cf0", "#44dd22"]}}
          }
        }
      ]
    }
  ]
}
